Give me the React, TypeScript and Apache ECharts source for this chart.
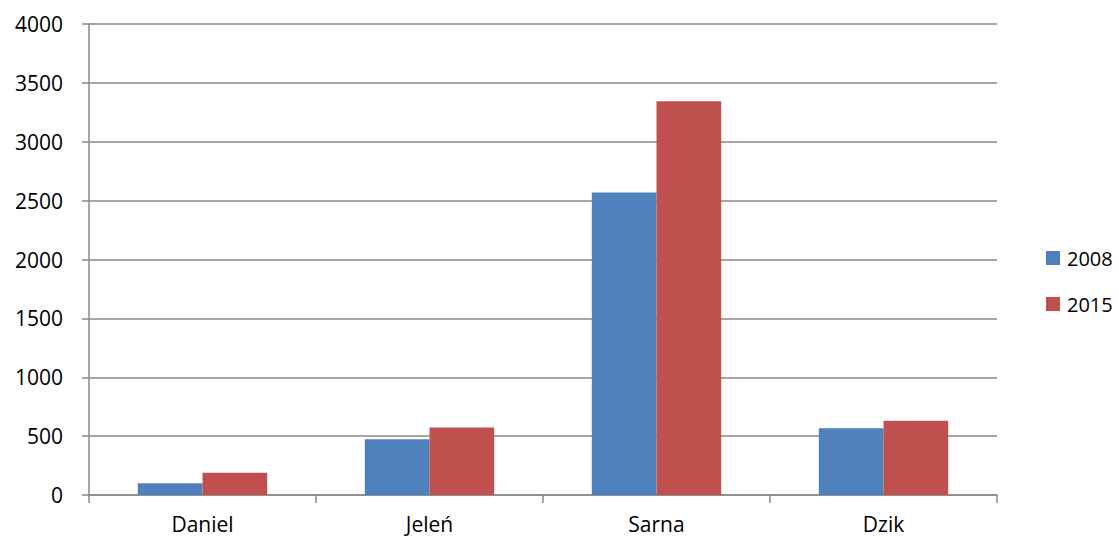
import React, { useEffect, useRef } from "react";
import * as echarts from "echarts";

const categories = ["Daniel", "Jeleń", "Sarna", "Dzik"];
const series2008 = [100, 474, 2568, 567];
const series2015 = [190, 573, 3345, 630];
const seriesNames = ["2008", "2015"];

export default function App() {
  const ref = useRef<HTMLDivElement>(null);
  useEffect(() => {
    if (!ref.current) return;
    const chart = echarts.init(ref.current, null, { renderer: "svg" });
    const font = "'Open Sans', sans-serif";
    const gray = "#898989";
    chart.setOption({
      animation: false,
      backgroundColor: "#ffffff",
      textStyle: { fontFamily: font },
      grid: { left: 89, right: 122, top: 24, bottom: 42, containLabel: false },
      legend: {
        orient: "vertical",
        left: 1041,
        top: 243,
        itemWidth: 14,
        itemHeight: 14,
        itemGap: 26,
        icon: "rect",
        data: seriesNames,
        textStyle: { fontSize: 20, color: "#000", fontFamily: font, padding: [0, 0, 0, 2] },
      },
      xAxis: {
        type: "category",
        data: categories,
        axisLine: { lineStyle: { color: gray, width: 1.5 } },
        axisTick: { show: true, length: 8, alignWithLabel: false, lineStyle: { color: gray, width: 1.5 } },
        axisLabel: { fontSize: 21, color: "#000", margin: 18, fontFamily: font },
        splitLine: { show: false },
      },
      yAxis: {
        type: "value",
        min: 0,
        max: 4000,
        interval: 500,
        axisLine: { show: true, lineStyle: { color: gray, width: 1.5 } },
        axisTick: { show: true, length: 7, lineStyle: { color: gray, width: 1.5 } },
        axisLabel: {
          fontSize: 21,
          color: "#000",
          margin: 26,
          fontFamily: font,
          formatter: (v: number) => String(v),
        },
        splitLine: { show: true, lineStyle: { color: gray, width: 1.5 } },
      },
      series: [
        {
          name: seriesNames[0],
          type: "bar",
          data: series2008,
          itemStyle: { color: "#4F81BD" },
          barGap: "0%",
          barCategoryGap: "43%",
        },
        {
          name: seriesNames[1],
          type: "bar",
          data: series2015,
          itemStyle: { color: "#C0504D" },
          barGap: "0%",
          barCategoryGap: "43%",
        },
      ],
    });
    return () => chart.dispose();
  }, []);
  return (
    <div
      ref={ref}
      style={{ position: "fixed", left: 0, top: 0, width: 1119, height: 537, background: "#fff" }}
    />
  );
}
